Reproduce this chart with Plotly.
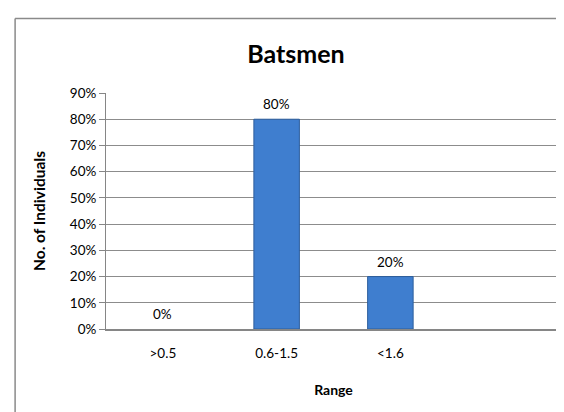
import plotly.graph_objects as go

categories = [">0.5", "0.6-1.5", "<1.6"]
values = [0, 80, 20]
labels = ["0%", "80%", "20%"]
ytick_vals = [0, 10, 20, 30, 40, 50, 60, 70, 80, 90]
ytick_text = [f"{v}%" for v in ytick_vals]

FONT = "Lato, Carlito, 'Open Sans', sans-serif"

fig = go.Figure()
fig.add_trace(go.Bar(
    x=categories, y=values,
    marker=dict(color="#3f7ecf",
                line=dict(color="#2d5e9c", width=[1 if v > 0 else 0 for v in values])),
    width=0.4,
))

for c, v, t in zip(categories, values, labels):
    fig.add_annotation(x=c, y=v, text=t, showarrow=False, yanchor="bottom",
                       yshift=5, font=dict(size=13.5, color="#000000", family=FONT))

L, R, T, B = 97.5, 11, 85, 91
W, H = 564, 412
pw, ph = W - L - R, H - T - B

def px_x(p):
    return (p - L) / pw

def px_y(p):
    return (H - B - p) / ph

fig.update_layout(
    width=W, height=H,
    margin=dict(l=L, r=R, t=T, b=B),
    paper_bgcolor="white", plot_bgcolor="white",
    showlegend=False,
    font=dict(family=FONT, color="#000000", size=13.5),
    title=dict(text="<b>Batsmen</b>", x=288 / W, xanchor="center",
               y=1 - 46 / H, yanchor="middle", font=dict(size=25, family=FONT)),
    xaxis=dict(
        type="category", range=[-0.5, 3.5],
        showline=True, linecolor="#868686", linewidth=1.5,
        showgrid=False, ticks="", ticklabelstandoff=11,
        tickfont=dict(size=13.5),
        title=dict(text="<b>Range</b>", font=dict(size=14), standoff=25),
    ),
    yaxis=dict(
        range=[0, 90], tickvals=ytick_vals, ticktext=ytick_text,
        showgrid=True, gridcolor="#8c8c8c", gridwidth=1,
        showline=True, linecolor="#868686", linewidth=1,
        ticks="outside", ticklen=6, tickcolor="#868686",
        tickfont=dict(size=13.5),
        title=dict(text="<b>No. of Individuals</b>", font=dict(size=15.5), standoff=20),
        zeroline=False,
    ),
    shapes=[
        dict(type="line", xref="paper", yref="paper",
             x0=px_x(6.5), x1=px_x(600), y0=px_y(10.5), y1=px_y(10.5),
             line=dict(color="#8a8a8a", width=1.5)),
        dict(type="line", xref="paper", yref="paper",
             x0=px_x(6.5), x1=px_x(6.5), y0=px_y(10.5), y1=px_y(430),
             line=dict(color="#8a8a8a", width=1.5)),
    ],
)

fig.write_html("out.html")
